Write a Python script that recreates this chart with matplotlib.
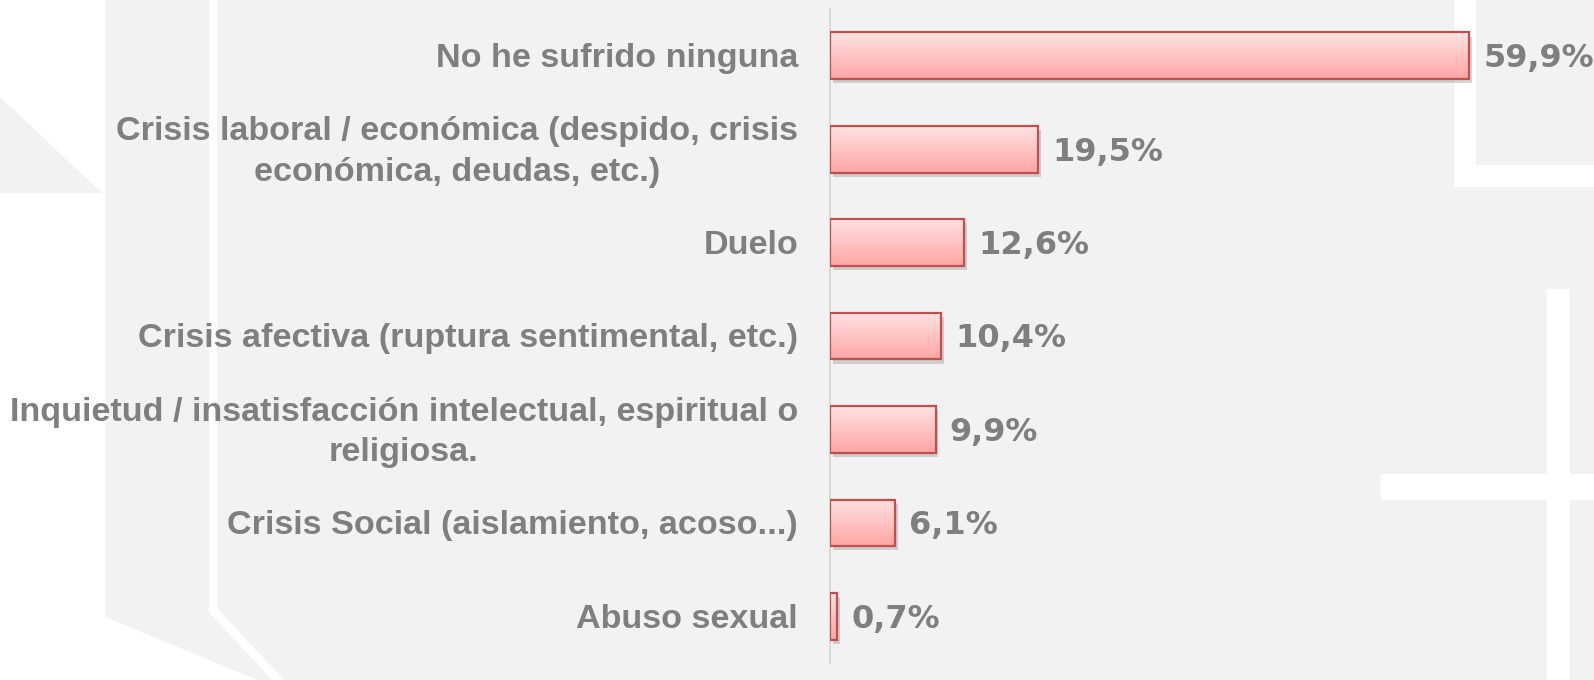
import numpy as np
import matplotlib
matplotlib.use("Agg")
import matplotlib.pyplot as plt
import matplotlib.patheffects as pe
from matplotlib import font_manager
from matplotlib.colors import LinearSegmentedColormap
from matplotlib.patches import Polygon

# ------------------------------------------------------------------
# Data
# ------------------------------------------------------------------
categories = [
    "No he sufrido ninguna",
    "Crisis laboral / económica (despido, crisis\neconómica, deudas, etc.)",
    "Duelo",
    "Crisis afectiva (ruptura sentimental, etc.)",
    "Inquietud / insatisfacción intelectual, espiritual o\nreligiosa.",
    "Crisis Social (aislamiento, acoso...)",
    "Abuso sexual",
]
values = [59.9, 19.5, 12.6, 10.4, 9.9, 6.1, 0.7]
value_labels = ["59,9%", "19,5%", "12,6%", "10,4%", "9,9%", "6,1%", "0,7%"]

BG = "#f2f2f2"
TEXT = "#7f7f7f"
EDGE = "#c0504d"
TOP_COL = "#ffe2e2"
BOT_COL = "#ffa5a5"

W, H = 1594, 680
fig = plt.figure(figsize=(W / 100, H / 100), dpi=100, facecolor=BG)
renderer = fig.canvas.get_renderer()

# ------------------------------------------------------------------
# Pick a condensed bold face (Arial Narrow look-alike) and size it so the
# longest label line spans ~788 px like in the reference.
# ------------------------------------------------------------------
bold_fams = {f.name for f in font_manager.fontManager.ttflist if f.weight in (600, 700, "bold")}
longest = "Inquietud / insatisfacción intelectual, espiritual o"


def text_width(fam, size):
    t = fig.text(0, 0, longest, fontsize=size, fontweight="bold", family=fam)
    w = t.get_window_extent(renderer).width
    t.remove()
    return w


label_font, label_size = "DejaVu Sans", 17.0
best = None
for cand in ["Liberation Sans Narrow", "Asap Condensed", "Roboto Condensed",
             "Archivo Narrow", "Liberation Sans"]:
    if cand not in bold_fams:
        continue
    size = 22 * 788 / text_width(cand, 22)
    if best is None or abs(size - 22) < abs(best[1] - 22):
        best = (cand, size)
if best is not None:
    label_font, label_size = best


def add_shape(pts, color="white"):
    """Decorative background polygon, pts in pixels measured from top-left."""
    xy = [(x / W, 1 - y / H) for x, y in pts]
    fig.patches.append(Polygon(xy, closed=True, transform=fig.transFigure,
                               facecolor=color, edgecolor="none", zorder=-5))


# left side decoration
add_shape([(0, 0), (105, 0), (105, 617), (258, 680), (0, 680)])
add_shape([(0, 97), (102, 193), (0, 193)], color=BG)
add_shape([(209, 0), (217, 0), (217, 608), (284, 680), (272, 680), (209, 612)])
# right side decoration
add_shape([(1454, 0), (1476, 0), (1476, 187), (1454, 187)])
add_shape([(1454, 165), (1594, 165), (1594, 187), (1454, 187)])
add_shape([(1547, 289), (1570, 289), (1570, 680), (1547, 680)])
add_shape([(1381, 474), (1594, 474), (1594, 500), (1381, 500)])

# axes: x=0 sits at 830 px, 10.67 px per percent
ax = fig.add_axes([830 / W, 17 / H, 747 / W, 654 / H])
ax.set_facecolor("none")

y = np.arange(len(values))
bar_h = 0.5

# base bars with drop shadow
ax.barh(y, values, height=bar_h, color=BOT_COL, edgecolor="none",
        path_effects=[pe.SimplePatchShadow(offset=(2, -3), shadow_rgbFace="#888888",
                                           alpha=0.35), pe.Normal()], zorder=2)

# vertical gradient fill on each bar
cmap = LinearSegmentedColormap.from_list("bar", [TOP_COL, BOT_COL])
grad = np.linspace(0, 1, 64).reshape(-1, 1)
for yi, v in zip(y, values):
    ax.imshow(grad, cmap=cmap, aspect="auto", origin="upper",
              extent=(0, v, yi + bar_h / 2, yi - bar_h / 2), zorder=3,
              interpolation="bilinear")

# outline on top
ax.barh(y, values, height=bar_h, fill=False, edgecolor=EDGE, linewidth=1.6, zorder=4)

ax.set_xlim(0, 70)
ax.set_ylim(len(values) - 0.5, -0.5)

# category labels
for yi, lab in zip(y, categories):
    ax.annotate(lab, xy=(0, yi), xytext=(-32, -3), textcoords="offset pixels",
                ha="right", va="center", multialignment="center",
                fontsize=label_size, fontweight="bold", color=TEXT,
                family=[label_font, "DejaVu Sans"],
                linespacing=1.4, annotation_clip=False)

# value labels
for yi, v, lab in zip(y, values, value_labels):
    ax.annotate(lab, xy=(v, yi), xytext=(14, -3), textcoords="offset pixels",
                ha="left", va="center", fontsize=23, fontweight="bold",
                color=TEXT, family="DejaVu Sans", annotation_clip=False)

ax.set_xticks([])
ax.set_yticks([])
for side in ["top", "right", "bottom"]:
    ax.spines[side].set_visible(False)
ax.spines["left"].set_color("#d9d9d9")
ax.spines["left"].set_linewidth(1.5)

fig.savefig("out.png", dpi=100, facecolor=BG)
